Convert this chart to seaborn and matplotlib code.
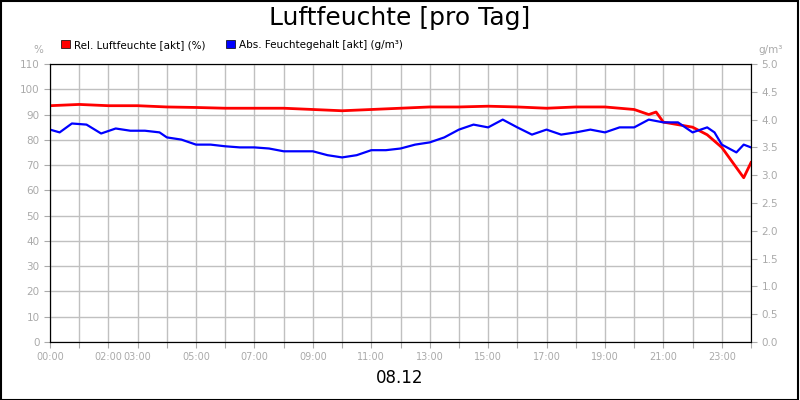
import matplotlib
matplotlib.use("Agg")
import matplotlib.pyplot as plt
import seaborn as sns
import pandas as pd

hours_red = [0, 1, 2, 3, 4, 5, 6, 7, 8, 9, 10, 11, 12, 13, 14, 15, 16, 17, 18, 19, 20, 20.5, 20.75, 21, 21.5, 22, 22.5, 23, 23.5, 23.75, 24]
rel_humidity = [93.5, 94, 93.5, 93.5, 93, 92.8, 92.5, 92.5, 92.5, 92, 91.5, 92, 92.5, 93, 93, 93.3, 93, 92.5, 93, 93, 92, 90, 91, 87, 86, 85, 82, 77, 69, 65, 71]

hours_abs = [0, 0.33, 0.75, 1.25, 1.75, 2.25, 2.75, 3.25, 3.75, 4, 4.5, 5, 5.5, 6, 6.5, 7, 7.5, 8, 8.5, 9, 9.5, 10, 10.5, 11, 11.5, 12, 12.5, 13, 13.5, 14, 14.5, 15, 15.5, 16, 16.5, 17, 17.5, 18, 18.5, 19, 19.5, 20, 20.5, 21, 21.5, 22, 22.5, 22.75, 23, 23.5, 23.75, 24]
abs_humidity = [3.82, 3.77, 3.93, 3.91, 3.75, 3.84, 3.80, 3.80, 3.77, 3.68, 3.64, 3.55, 3.55, 3.52, 3.50, 3.50, 3.48, 3.43, 3.43, 3.43, 3.36, 3.32, 3.36, 3.45, 3.45, 3.48, 3.55, 3.59, 3.68, 3.82, 3.91, 3.86, 4.00, 3.86, 3.73, 3.82, 3.73, 3.77, 3.82, 3.77, 3.86, 3.86, 4.00, 3.95, 3.95, 3.77, 3.86, 3.77, 3.55, 3.41, 3.55, 3.50]

tick_hours = [0, 2, 3, 5, 7, 9, 11, 13, 15, 17, 19, 21, 23]
tick_labels = ["00:00", "02:00", "03:00", "05:00", "07:00", "09:00", "11:00", "13:00", "15:00", "17:00", "19:00", "21:00", "23:00"]

df_r = pd.DataFrame({"h": hours_red, "v": rel_humidity})
df_a = pd.DataFrame({"h": hours_abs, "v": abs_humidity})

fig = plt.figure(figsize=(8, 4), dpi=100)
fig.patches.append(plt.Rectangle((0.001, 0.001), 0.997, 0.997, transform=fig.transFigure,
                                 fill=False, edgecolor="black", lw=1.5))
ax = fig.add_axes([50/800, 1-342/400, 701/800, 278/400])
ax2 = ax.twinx()
grey = "#aaaaaa"
sns.lineplot(data=df_r, x="h", y="v", ax=ax, color="#ff0000", lw=2)
sns.lineplot(data=df_a, x="h", y="v", ax=ax2, color="#0000ff", lw=1.6)
ax.set_xlim(0, 24)
ax.set_ylim(0, 110)
ax2.set_ylim(0, 5)
ax.set_yticks(range(0, 111, 10))
ax2.set_yticks([i*0.5 for i in range(11)])
ax2.set_yticklabels([f"{i*0.5:.1f}" for i in range(11)])
ax.set_xticks(range(25), minor=False)
ax.set_xticklabels([""]*25)
for h, l in zip(tick_hours, tick_labels):
    ax.text(h, -4, l, ha="center", va="top", fontsize=7, color=grey, transform=ax.transData)
ax.grid(True, color="#c0c0c0", lw=1)
ax.set_axisbelow(True)
for a in (ax, ax2):
    a.set_xlabel(""); a.set_ylabel("")
    a.tick_params(colors=grey, labelsize=7.5, length=4)
    for s in a.spines.values():
        s.set_color("black")
ax.text(-0.01, 1.04, "%", transform=ax.transAxes, ha="right", fontsize=7.5, color=grey)
ax2.text(1.01, 1.04, "g/m³", transform=ax.transAxes, ha="left", fontsize=7.5, color=grey)
fig.text(0.5, 0.955, "Luftfeuchte [pro Tag]", ha="center", va="center", fontsize=18)
fig.text(0.5, 0.055, "08.12", ha="center", va="center", fontsize=12)
from matplotlib.patches import Patch
handles = [Patch(facecolor="#ff0000", edgecolor="black", lw=0.5), Patch(facecolor="#0000ff", edgecolor="black", lw=0.5)]
fig.legend(handles, ["Rel. Luftfeuchte [akt] (%)", "Abs. Feuchtegehalt [akt] (g/m³)"],
           loc="center left", bbox_to_anchor=(0.065, 0.888), ncol=2, frameon=False,
           fontsize=7.5, handlelength=0.8, handleheight=0.8, handletextpad=0.4, columnspacing=2)
fig.savefig("out.png", dpi=100)
